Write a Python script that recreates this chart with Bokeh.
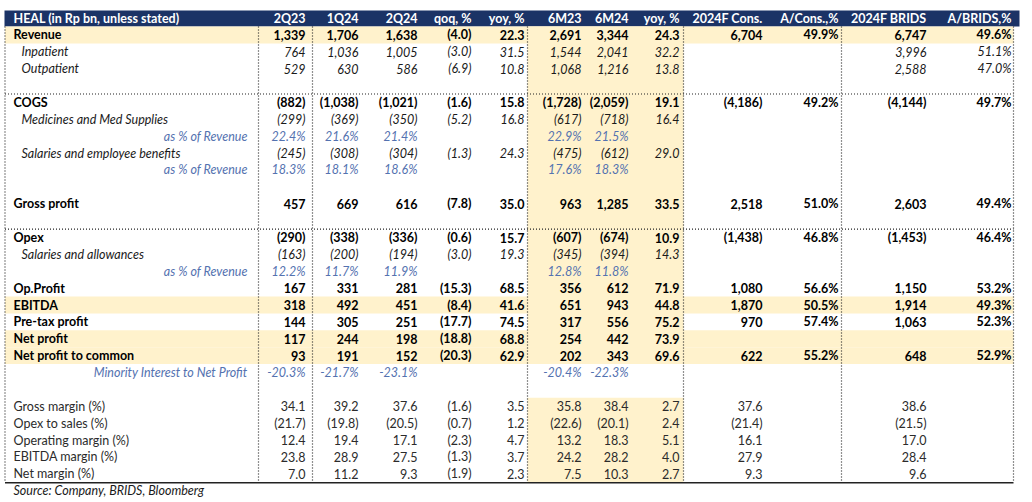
from bokeh.plotting import figure
from bokeh.models import Range1d, ColumnDataSource
from bokeh.embed import file_html
from bokeh.resources import INLINE
from bokeh.core.properties import value

# ---------------- data ----------------
title = "HEAL (in Rp bn, unless stated)"
columns = ["2Q23", "1Q24", "2Q24", "qoq, %", "yoy, %", "6M23", "6M24", "yoy, %",
           "2024F Cons.", "A/Cons.,%", "2024F BRIDS", "A/BRIDS,%"]
source_note = "Source: Company, BRIDS, Bloomberg"

revenue = [1339, 1706, 1638, -4.0, 22.3, 2691, 3344, 24.3, 6704, 49.9, 6747, 49.6]
inpatient = [764, 1036, 1005, -3.0, 31.5, 1544, 2041, 32.2, None, None, 3996, 51.1]
outpatient = [529, 630, 586, -6.9, 10.8, 1068, 1216, 13.8, None, None, 2588, 47.0]
cogs = [-882, -1038, -1021, -1.6, 15.8, -1728, -2059, 19.1, -4186, 49.2, -4144, 49.7]
medicines = [-299, -369, -350, -5.2, 16.8, -617, -718, 16.4, None, None, None, None]
medicines_pct = [22.4, 21.6, 21.4, None, None, 22.9, 21.5, None, None, None, None, None]
salaries = [-245, -308, -304, -1.3, 24.3, -475, -612, 29.0, None, None, None, None]
salaries_pct = [18.3, 18.1, 18.6, None, None, 17.6, 18.3, None, None, None, None, None]
gross_profit = [457, 669, 616, -7.8, 35.0, 963, 1285, 33.5, 2518, 51.0, 2603, 49.4]
opex = [-290, -338, -336, -0.6, 15.7, -607, -674, 10.9, -1438, 46.8, -1453, 46.4]
sal_allow = [-163, -200, -194, -3.0, 19.3, -345, -394, 14.3, None, None, None, None]
sal_allow_pct = [12.2, 11.7, 11.9, None, None, 12.8, 11.8, None, None, None, None, None]
op_profit = [167, 331, 281, -15.3, 68.5, 356, 612, 71.9, 1080, 56.6, 1150, 53.2]
ebitda = [318, 492, 451, -8.4, 41.6, 651, 943, 44.8, 1870, 50.5, 1914, 49.3]
pretax = [144, 305, 251, -17.7, 74.5, 317, 556, 75.2, 970, 57.4, 1063, 52.3]
net_profit = [117, 244, 198, -18.8, 68.8, 254, 442, 73.9, None, None, None, None]
np_common = [93, 191, 152, -20.3, 62.9, 202, 343, 69.6, 622, 55.2, 648, 52.9]
minority_pct = [-20.3, -21.7, -23.1, None, None, -20.4, -22.3, None, None, None, None, None]
gross_margin = [34.1, 39.2, 37.6, -1.6, 3.5, 35.8, 38.4, 2.7, 37.6, None, 38.6, None]
opex_sales = [-21.7, -19.8, -20.5, -0.7, 1.2, -22.6, -20.1, 2.4, -21.4, None, -21.5, None]
op_margin = [12.4, 19.4, 17.1, -2.3, 4.7, 13.2, 18.3, 5.1, 16.1, None, 17.0, None]
ebitda_margin = [23.8, 28.9, 27.5, -1.3, 3.7, 24.2, 28.2, 4.0, 27.9, None, 28.4, None]
net_margin = [7.0, 11.2, 9.3, -1.9, 2.3, 7.5, 10.3, 2.7, 9.3, None, 9.6, None]

rows = [
    ("Revenue", "main", revenue),
    ("Inpatient", "sub", inpatient),
    ("Outpatient", "sub", outpatient),
    ("", "blank", None),
    ("COGS", "main", cogs),
    ("Medicines and Med Supplies", "sub", medicines),
    ("as % of Revenue", "pct", medicines_pct),
    ("Salaries and employee benefits", "sub", salaries),
    ("as % of Revenue", "pct", salaries_pct),
    ("", "blank", None),
    ("Gross profit", "main", gross_profit),
    ("", "blank", None),
    ("Opex", "main", opex),
    ("Salaries and allowances", "sub", sal_allow),
    ("as % of Revenue", "pct", sal_allow_pct),
    ("Op.Profit", "main", op_profit),
    ("EBITDA", "main", ebitda),
    ("Pre-tax profit", "main", pretax),
    ("Net profit", "main", net_profit),
    ("Net profit to common", "main", np_common),
    ("Minority Interest to Net Profit", "pct", minority_pct),
    ("", "blank", None),
    ("Gross margin (%)", "margin", gross_margin),
    ("Opex to sales (%)", "margin", opex_sales),
    ("Operating margin (%)", "margin", op_margin),
    ("EBITDA margin (%)", "margin", ebitda_margin),
    ("Net margin (%)", "margin", net_margin),
]
full_highlight = ["Revenue", "EBITDA", "Net profit", "Net profit to common"]

# ---------------- layout ----------------
W, H = 1032, 502
col_right = [305, 358, 417, 471, 524, 581, 628, 679, 762, 838, 926, 1011]
chg_cols = {3, 4, 7}
ratio_cols = {9, 11}
vlines = [258, 312, 527, 683, 841, 1013]
left_x = 4.5
table_right = 1013
head_top, head_bot = 10, 26
row_h = 16.88
label_x_main, label_x_sub, label_right_pct = 13, 21, 247

NAVY = "#1B3366"
PEACH = "#FFF2CC"
BLUE = "#5472B0"
FONT = "Lato"
FS = "12.5px"


def row_top(i):
    return head_bot + i * row_h


def fmt(v, kind, c):
    if v is None:
        return ""
    if kind == "pct":
        return f"{v:.1f}%"
    if c in ratio_cols:
        return f"{v:.1f}%"
    if c in chg_cols or kind == "margin":
        s = f"{abs(v):.1f}"
    else:
        s = f"{abs(v):,.0f}"
    return f"({s})" if v < 0 else s


p = figure(width=W, height=H, output_backend="svg", toolbar_location=None,
           x_range=Range1d(0, W), y_range=Range1d(H, 0),
           min_border=0, background_fill_color="white", border_fill_color="white")
p.axis.visible = False
p.grid.visible = False
p.outline_line_color = None

# fills
n = len(rows)
fl, fr, ft, fb, fc = [], [], [], [], []
fl.append(4); fr.append(1019); ft.append(head_top); fb.append(head_bot); fc.append(NAVY)
last_main = [r[0] for r in rows].index("Net profit to common")
fl.append(vlines[2]); fr.append(vlines[3]); ft.append(row_top(0)); fb.append(row_top(last_main + 1)); fc.append(PEACH)
first_margin = [r[1] for r in rows].index("margin")
fl.append(vlines[2]); fr.append(vlines[3]); ft.append(row_top(first_margin)); fb.append(row_top(n)); fc.append(PEACH)
for i, (lab, kind, vals) in enumerate(rows):
    if lab in full_highlight:
        fl.append(left_x); fr.append(table_right); ft.append(row_top(i)); fb.append(row_top(i + 1)); fc.append(PEACH)
p.quad(left=fl, right=fr, top=ft, bottom=fb, fill_color=fc, line_color=None)

# dotted lines
sx0, sx1, sy0, sy1 = [], [], [], []
for x in [left_x] + vlines:
    sx0.append(x); sx1.append(x); sy0.append(row_top(0)); sy1.append(row_top(n))
for lab in ["COGS", "Opex"]:
    i = [r[0] for r in rows].index(lab)
    y = row_top(i)
    sx0.append(left_x); sx1.append(table_right); sy0.append(y); sy1.append(y)
p.segment(x0=sx0, x1=sx1, y0=sy0, y1=sy1, line_color="#222222", line_width=1.2, line_dash="1 2")
p.segment(x0=[left_x], x1=[table_right], y0=[row_top(n) + 0.5], y1=[row_top(n) + 0.5],
          line_color="#222222", line_width=1.6)

# texts grouped by style
groups = {}


def add(key, x, y, t):
    g = groups.setdefault(key, {"x": [], "y": [], "t": []})
    g["x"].append(x); g["y"].append(y); g["t"].append(t)


hy = (head_top + head_bot) / 2
add(("bold", "white", "left"), label_x_main, hy, title)
for c, name in enumerate(columns):
    add(("bold", "white", "right"), col_right[c], hy, name)

style_map = {"main": ("bold", "#000000"), "sub": ("italic", "#1a1a1a"),
             "pct": ("italic", BLUE), "margin": ("normal", "#2b2b2b")}
for i, (lab, kind, vals) in enumerate(rows):
    if kind == "blank":
        continue
    st, col = style_map[kind]
    yc = row_top(i) + row_h / 2
    if kind == "pct":
        add((st, col, "right"), label_right_pct, yc, lab)
    elif kind == "sub":
        add((st, col, "left"), label_x_sub, yc, lab)
    else:
        add((st, col, "left"), label_x_main, yc, lab)
    for c, v in enumerate(vals):
        s = fmt(v, kind, c)
        if s:
            add((st, col, "right"), col_right[c], yc, s)

add(("italic", "#1a1a1a", "left"), label_x_main, row_top(n) + 8.5, source_note)

for (st, col, al), g in groups.items():
    src = ColumnDataSource(dict(x=g["x"], y=g["y"], t=g["t"]))
    p.text(x="x", y="y", text="t", source=src, text_align=al, text_baseline="middle",
           text_font=value(FONT), text_font_size=value(FS), text_font_style=st,
           text_color=col)

open("out.html", "w").write(file_html(p, INLINE))
